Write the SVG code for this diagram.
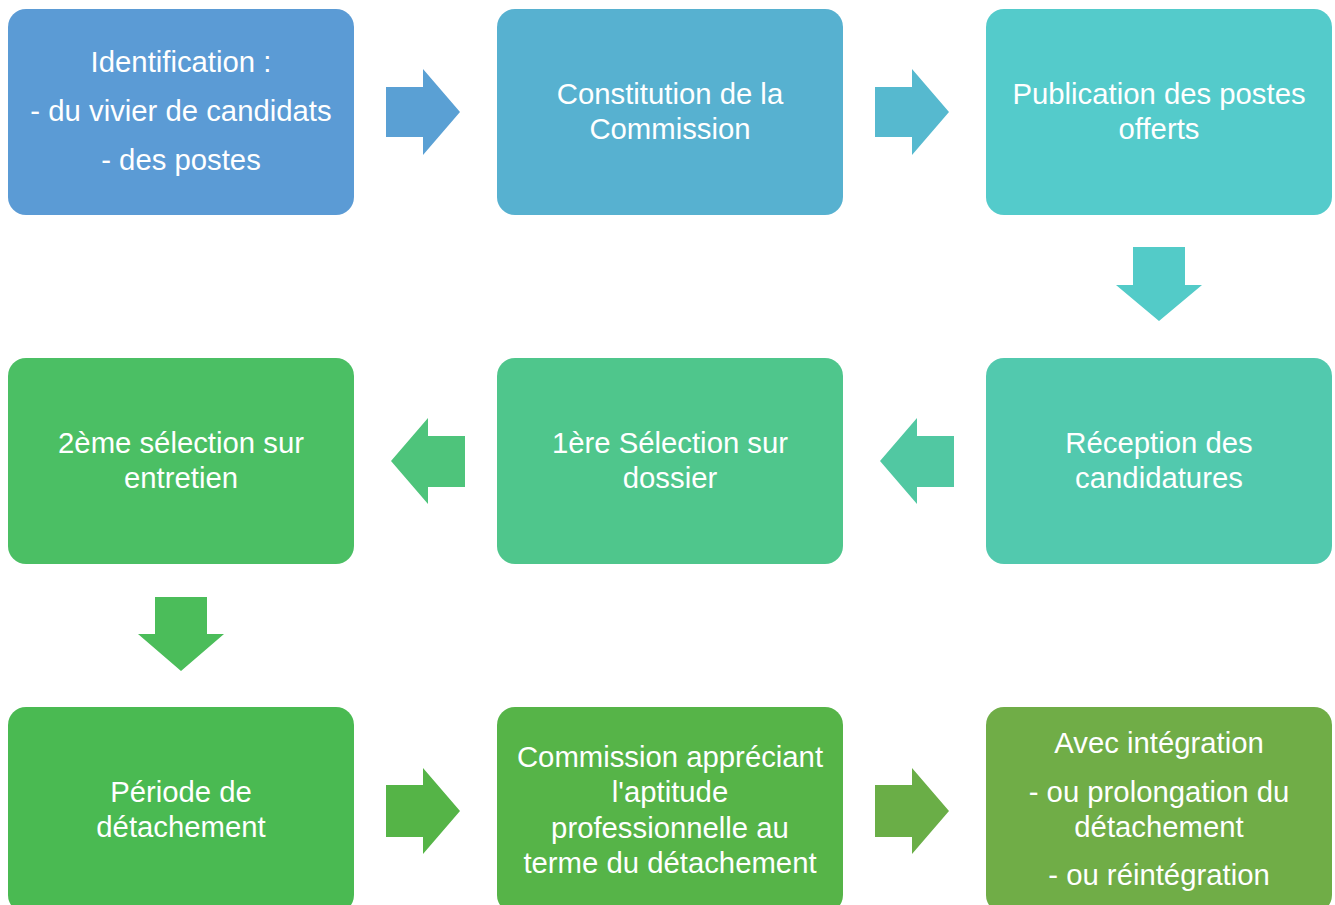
<svg xmlns="http://www.w3.org/2000/svg" width="1335" height="905" viewBox="0 0 1335 905">
  <style>
    .box { stroke: none; }
    .lbl { font-family: "Liberation Sans", Arial, sans-serif; font-size: 29.3px; fill: #ffffff; text-anchor: middle; }
  </style>
  <rect width="1335" height="905" fill="#ffffff"/>

  <!-- process steps -->
  <g id="step-identification">
    <rect class="box" x="8" y="9" width="346" height="206" rx="18" fill="#5B9BD5"/>
    <text class="lbl"><tspan x="181" y="72">Identification :</tspan><tspan x="181" y="121">- du vivier de candidats</tspan><tspan x="181" y="170">- des postes</tspan></text>
  </g>
  <g id="step-commission">
    <rect class="box" x="497" y="9" width="346" height="206" rx="18" fill="#57B1D0"/>
    <text class="lbl"><tspan x="670" y="104">Constitution de la</tspan><tspan x="670" y="139">Commission</tspan></text>
  </g>
  <g id="step-publication">
    <rect class="box" x="986" y="9" width="346" height="206" rx="18" fill="#54CBCB"/>
    <text class="lbl"><tspan x="1159" y="104">Publication des postes</tspan><tspan x="1159" y="139">offerts</tspan></text>
  </g>
  <g id="step-reception">
    <rect class="box" x="986" y="358" width="346" height="206" rx="18" fill="#52C9AE"/>
    <text class="lbl"><tspan x="1159" y="453">Réception des</tspan><tspan x="1159" y="488">candidatures</tspan></text>
  </g>
  <g id="step-selection-1">
    <rect class="box" x="497" y="358" width="346" height="206" rx="18" fill="#4FC68C"/>
    <text class="lbl"><tspan x="670" y="453">1ère Sélection sur</tspan><tspan x="670" y="488">dossier</tspan></text>
  </g>
  <g id="step-selection-2">
    <rect class="box" x="8" y="358" width="346" height="206" rx="18" fill="#4BBF64"/>
    <text class="lbl"><tspan x="181" y="453">2ème sélection sur</tspan><tspan x="181" y="488">entretien</tspan></text>
  </g>
  <g id="step-detachement">
    <rect class="box" x="8" y="707" width="346" height="206" rx="18" fill="#4ABA52"/>
    <text class="lbl"><tspan x="181" y="802">Période de</tspan><tspan x="181" y="837">détachement</tspan></text>
  </g>
  <g id="step-aptitude">
    <rect class="box" x="497" y="707" width="346" height="206" rx="18" fill="#56B448"/>
    <text class="lbl"><tspan x="670" y="767">Commission appréciant</tspan><tspan x="670" y="802">l'aptitude</tspan><tspan x="670" y="838">professionnelle au</tspan><tspan x="670" y="873">terme du détachement</tspan></text>
  </g>
  <g id="step-issue">
    <rect class="box" x="986" y="707" width="346" height="206" rx="18" fill="#70AD47"/>
    <text class="lbl"><tspan x="1159" y="753">Avec intégration</tspan><tspan x="1159" y="802">- ou prolongation du</tspan><tspan x="1159" y="837">détachement</tspan><tspan x="1159" y="885">- ou réintégration</tspan></text>
  </g>

  <!-- block arrows between steps -->
  <g id="connectors">
    <polygon points="386,87 423,87 423,69 460,112 423,155 423,137 386,137" fill="#5AA0D4"/>
    <polygon points="875,87 912,87 912,69 949,112 912,155 912,137 875,137" fill="#56B9CF"/>
    <polygon points="1133,247 1185,247 1185,285 1202,285 1159,321 1116,285 1133,285" fill="#53CBC8"/>
    <polygon points="954,436 917,436 917,418 880,461 917,504 917,487 954,487" fill="#51C8A2"/>
    <polygon points="465,436 428,436 428,418 391,461 428,504 428,487 465,487" fill="#4EC47B"/>
    <polygon points="155,597 207,597 207,634 224,634 181,671 138,634 155,634" fill="#4BBD5A"/>
    <polygon points="386,785 423,785 423,768 460,811 423,854 423,837 386,837" fill="#55B447"/>
    <polygon points="875,785 912,785 912,768 949,811 912,854 912,837 875,837" fill="#6AAE47"/>
  </g>
</svg>
